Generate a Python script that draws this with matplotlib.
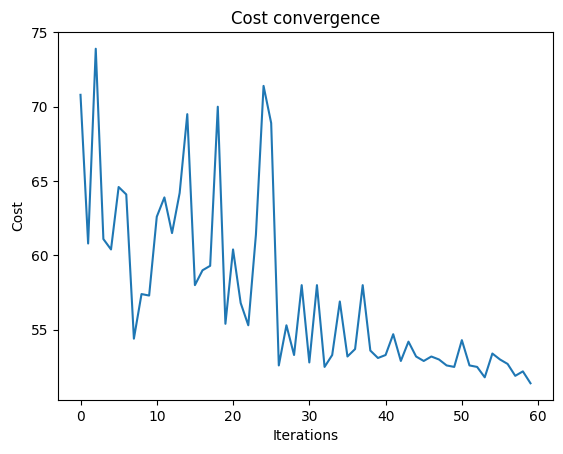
import matplotlib
matplotlib.use('Agg')
import matplotlib.pyplot as plt
import numpy as np

# cost per iteration
iterations = np.arange(60)
cost = [70.8, 60.8, 73.9, 61.1, 60.4, 64.6, 64.1, 54.4, 57.4, 57.3,
        62.6, 63.9, 61.5, 64.2, 69.5, 58.0, 59.0, 59.3, 70.0, 55.4,
        60.4, 56.8, 55.3, 61.4, 71.4, 68.9, 52.6, 55.3, 53.3, 58.0,
        52.8, 58.0, 52.5, 53.3, 56.9, 53.2, 53.7, 58.0, 53.6, 53.1,
        53.3, 54.7, 52.9, 54.2, 53.2, 52.9, 53.2, 53.0, 52.6, 52.5,
        54.3, 52.6, 52.5, 51.8, 53.4, 53.0, 52.7, 51.9, 52.2, 51.4]

def main():
    fig = plt.figure(figsize=(5.63, 4.54), dpi=100)
    ax = fig.add_axes([58/563, 54/454, 495/563, 368/454])
    ax.plot(iterations, cost)
    ax.set_title('Cost convergence')
    ax.set_xlabel('Iterations')
    ax.set_ylabel('Cost')
    fig.savefig('out.png', dpi=100)

if __name__ == '__main__':
    main()
